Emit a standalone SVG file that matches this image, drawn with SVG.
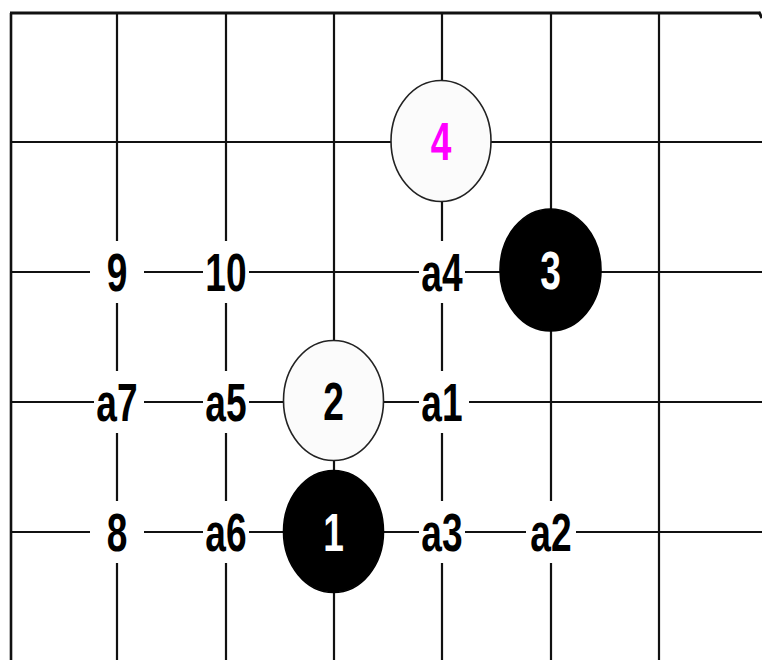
<svg xmlns="http://www.w3.org/2000/svg" width="762" height="660" viewBox="0 0 762 660">
<style>
.grid line{stroke:#111;stroke-width:2.2}
.lb rect{fill:#fff}
text{font-family:"Liberation Sans",Arial,sans-serif;font-size:53px;font-weight:bold;text-anchor:middle}
.w ellipse{fill:#fbfbfb;stroke:#222;stroke-width:1.6}
.b ellipse{fill:#000;stroke:#000;stroke-width:1.6}
.b text{fill:#fff}
.lb text,.w text{fill:#000}
</style>
<rect width="762" height="660" fill="#fff"/>
<g id="connectors" class="grid">
<line x1="10" y1="13" x2="760" y2="13" style="stroke-width:3"/>
<line x1="759" y1="12" x2="762" y2="18" style="stroke-width:3"/>
<line x1="11" y1="13" x2="11" y2="660" style="stroke-width:2.6"/>
<line x1="117" y1="13" x2="117" y2="660"/>
<line x1="226" y1="13" x2="226" y2="660"/>
<line x1="334" y1="13" x2="334" y2="660"/>
<line x1="442" y1="13" x2="442" y2="660"/>
<line x1="551" y1="13" x2="551" y2="660"/>
<line x1="659" y1="13" x2="659" y2="660"/>
<line x1="10" y1="142" x2="762" y2="142"/>
<line x1="10" y1="272" x2="762" y2="272"/>
<line x1="10" y1="402" x2="762" y2="402"/>
<line x1="10" y1="532" x2="762" y2="532"/>
</g>
<g id="label-9" class="lb" transform="translate(117,272)"><rect x="-27" y="-31" width="54" height="62"/><text transform="scale(0.7,1)" y="19">9</text></g>
<g id="label-10" class="lb" transform="translate(226,272)"><rect x="-23" y="-31" width="46" height="62"/><text transform="scale(0.7,1)" y="19">10</text></g>
<g id="label-a4" class="lb" transform="translate(442,272)"><rect x="-23" y="-31" width="46" height="62"/><text transform="scale(0.7,1)" y="19">a4</text></g>
<g id="label-a7" class="lb" transform="translate(117,402)"><rect x="-23" y="-31" width="50" height="62"/><text transform="scale(0.7,1)" y="19">a7</text></g>
<g id="label-a5" class="lb" transform="translate(226,402)"><rect x="-23" y="-31" width="46" height="62"/><text transform="scale(0.7,1)" y="19">a5</text></g>
<g id="label-a1" class="lb" transform="translate(442,402)"><rect x="-23" y="-31" width="50" height="62"/><text transform="scale(0.7,1)" y="19">a1</text></g>
<g id="label-8" class="lb" transform="translate(117,532)"><rect x="-27" y="-31" width="54" height="62"/><text transform="scale(0.7,1)" y="19">8</text></g>
<g id="label-a6" class="lb" transform="translate(226,532)"><rect x="-23" y="-31" width="46" height="62"/><text transform="scale(0.7,1)" y="19">a6</text></g>
<g id="label-a3" class="lb" transform="translate(442,532)"><rect x="-23" y="-31" width="46" height="62"/><text transform="scale(0.7,1)" y="19">a3</text></g>
<g id="label-a2" class="lb" transform="translate(551,532)"><rect x="-25" y="-31" width="50" height="62"/><text transform="scale(0.7,1)" y="19">a2</text></g>
<g id="stone-4" class="w" transform="translate(441,141)"><ellipse rx="50" ry="60.5"/><text transform="scale(0.7,1)" y="19" style="fill:#ff00ff">4</text></g>
<g id="stone-3" class="b" transform="translate(550.5,270)"><ellipse rx="50.5" ry="61"/><text transform="scale(0.7,1)" y="19">3</text></g>
<g id="stone-2" class="w" transform="translate(333.5,400.5)"><ellipse rx="50" ry="60"/><text transform="scale(0.7,1)" y="19">2</text></g>
<g id="stone-1" class="b" transform="translate(333.5,531.5)"><ellipse rx="50" ry="61"/><text transform="scale(0.7,1)" y="19">1</text></g>
</svg>
